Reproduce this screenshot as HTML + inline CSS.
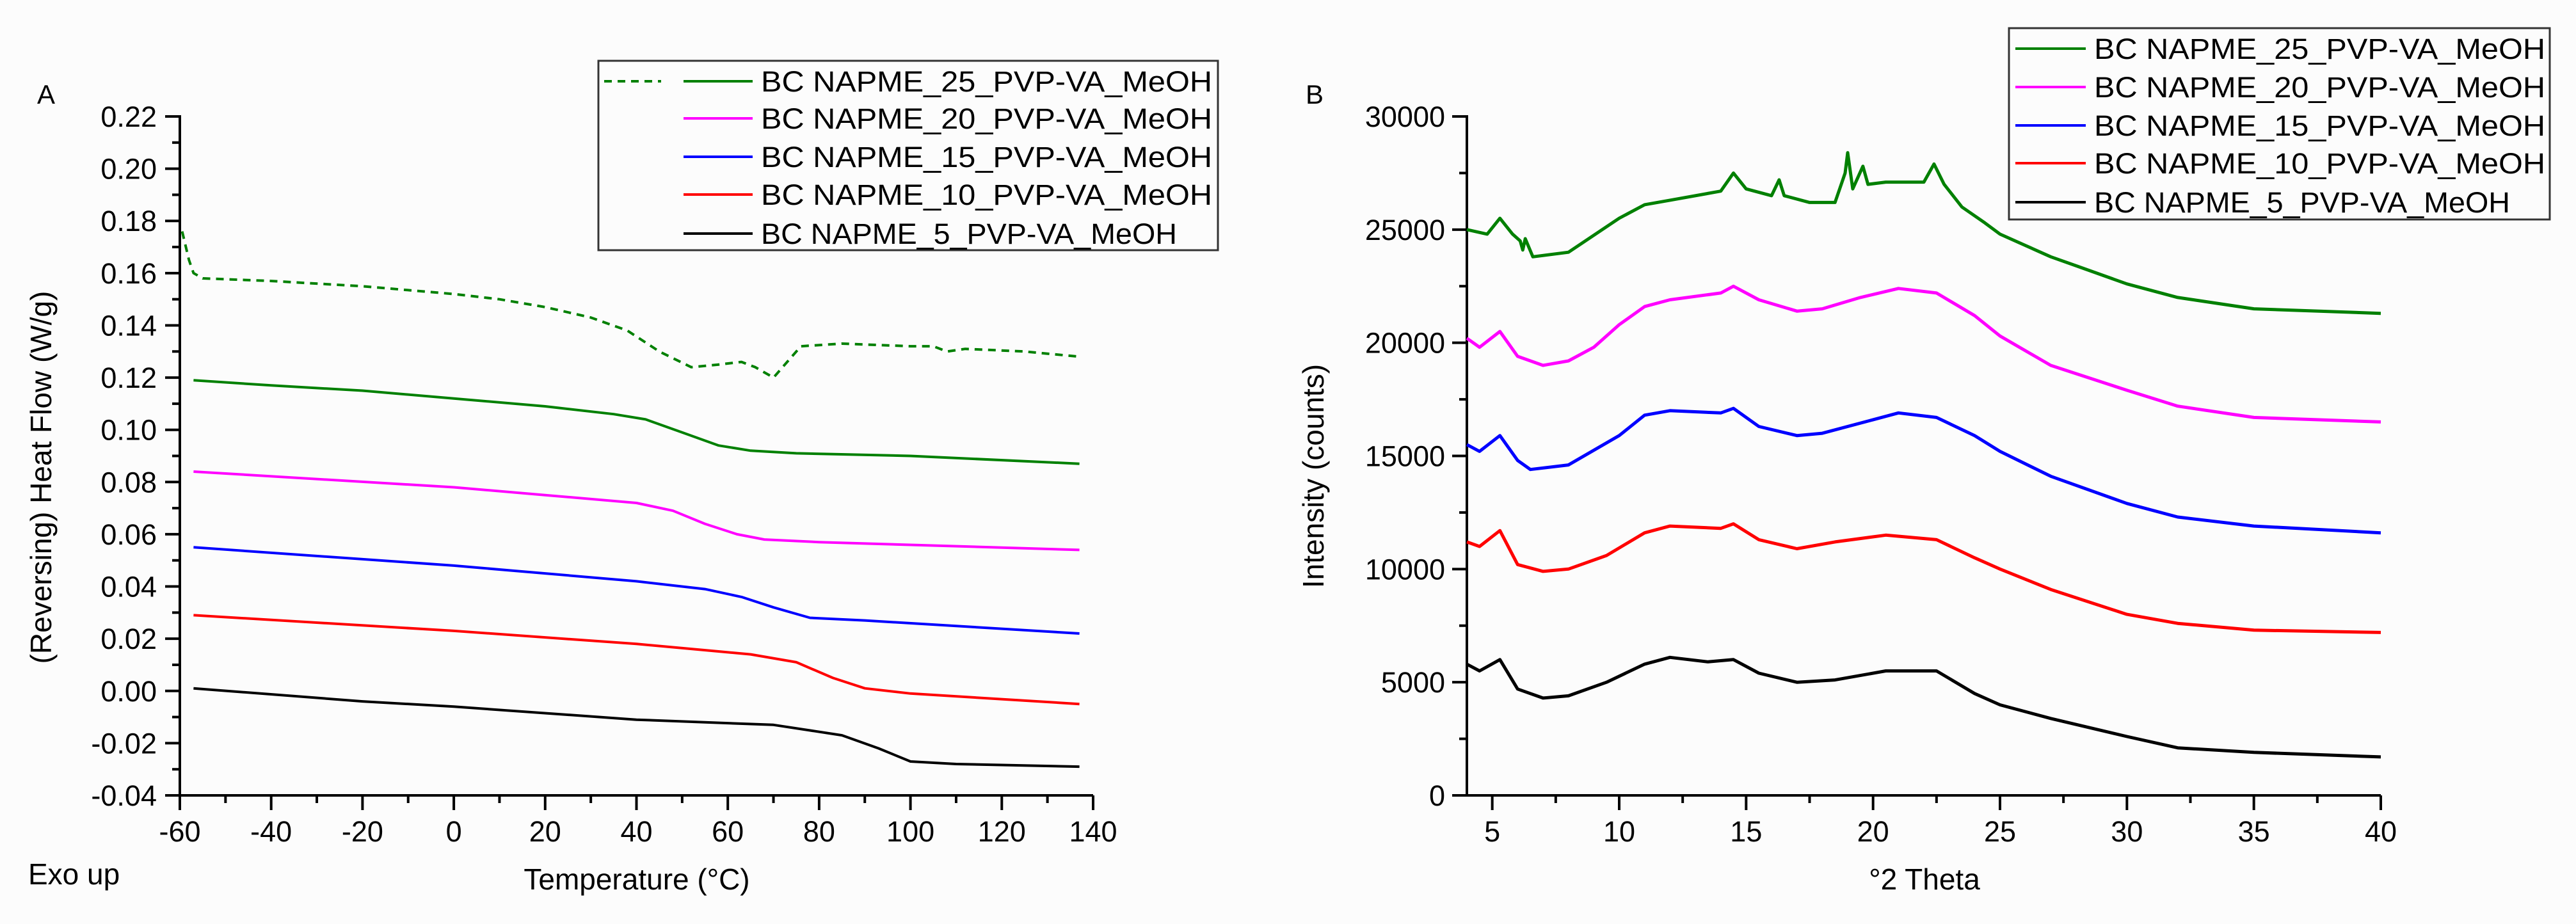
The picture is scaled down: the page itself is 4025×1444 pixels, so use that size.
<!DOCTYPE html>
<html><head><meta charset="utf-8"><style>
html,body{margin:0;padding:0;background:#fcfcfc}
svg{display:block;font-family:"Liberation Sans",Arial,sans-serif}
</style></head><body>
<svg id="fig" width="4025" height="1444" viewBox="0 0 4025 1444" xmlns="http://www.w3.org/2000/svg">
<rect width="4025" height="1444" fill="#fcfcfc"/>
</svg>
<script>
// ---- Panel A data (DSC) ----
const dscTicksX = [-60,-40,-20,0,20,40,60,80,100,120,140];
const dscTicksY = [-0.04,-0.02,0.00,0.02,0.04,0.06,0.08,0.10,0.12,0.14,0.16,0.18,0.20,0.22];
const dscNames = ["BC NAPME_25_PVP-VA_MeOH","BC NAPME_20_PVP-VA_MeOH","BC NAPME_15_PVP-VA_MeOH","BC NAPME_10_PVP-VA_MeOH","BC NAPME_5_PVP-VA_MeOH"];
const dscDashedX = [-59.5,-58,-57,-55,-40,-20,0,10,20,30,38,45,52,58,63,66,70,73,76,85,100,105,108,112,125,137];
const dscDashedY = [0.176,0.165,0.160,0.158,0.157,0.155,0.152,0.150,0.147,0.143,0.138,0.130,0.124,0.125,0.126,0.124,0.120,0.126,0.132,0.133,0.132,0.132,0.130,0.131,0.130,0.128];
const dsc25X = [-57,-40,-20,0,20,35,42,50,58,65,75,100,137];
const dsc25Y = [0.119,0.117,0.115,0.112,0.109,0.106,0.104,0.099,0.094,0.092,0.091,0.090,0.087];
const dsc20X = [-57,0,20,40,48,55,62,68,80,137];
const dsc20Y = [0.084,0.078,0.075,0.072,0.069,0.064,0.060,0.058,0.057,0.054];
const dsc15X = [-57,0,40,55,63,70,78,90,137];
const dsc15Y = [0.055,0.048,0.042,0.039,0.036,0.032,0.028,0.027,0.022];
const dsc10X = [-57,0,40,65,75,83,90,100,137];
const dsc10Y = [0.029,0.023,0.018,0.014,0.011,0.005,0.001,-0.001,-0.005];
const dsc5X = [-57,-20,0,40,70,85,93,100,110,137];
const dsc5Y = [0.001,-0.004,-0.006,-0.011,-0.013,-0.017,-0.022,-0.027,-0.028,-0.029];
// ---- Panel B data (XRD) ----
const xrdTicksX = [5,10,15,20,25,30,35,40];
const xrdTicksY = [0,5000,10000,15000,20000,25000,30000];
const xrd25X = [4,4.8,5.3,5.8,6.1,6.2,6.3,6.6,8,10,11,12,14,14.5,15,16,16.3,16.5,17.5,18.5,18.9,19,19.2,19.6,19.8,20.5,22,22.4,22.8,23.5,24.4,25,27,28,30,32,35,40];
const xrd25Y = [25000,24800,25500,24800,24500,24100,24600,23800,24000,25500,26100,26300,26700,27500,26800,26500,27200,26500,26200,26200,27500,28400,26800,27800,27000,27100,27100,27900,27000,26000,25300,24800,23800,23400,22600,22000,21500,21300];
const xrd20X = [4,4.5,5.3,6,7,8,9,10,11,12,14,14.5,15.5,17,18,19.5,21,22.5,24,25,27,30,32,35,40];
const xrd20Y = [20200,19800,20500,19400,19000,19200,19800,20800,21600,21900,22200,22500,21900,21400,21500,22000,22400,22200,21200,20300,19000,17900,17200,16700,16500];
const xrd15X = [4,4.5,5.3,6,6.5,8,10,11,12,14,14.5,15.5,17,18,20,21,22.5,24,25,27,30,32,35,40];
const xrd15Y = [15500,15200,15900,14800,14400,14600,15900,16800,17000,16900,17100,16300,15900,16000,16600,16900,16700,15900,15200,14100,12900,12300,11900,11600];
const xrd10X = [4,4.5,5.3,6,7,8,9.5,11,12,14,14.5,15.5,17,18.5,20.5,22.5,24,25,27,30,32,35,40];
const xrd10Y = [11200,11000,11700,10200,9900,10000,10600,11600,11900,11800,12000,11300,10900,11200,11500,11300,10500,10000,9100,8000,7600,7300,7200];
const xrd5X = [4,4.5,5.3,6,7,8,9.5,11,12,13.5,14.5,15.5,17,18.5,20.5,22.5,24,25,27,30,32,35,40];
const xrd5Y = [5800,5500,6000,4700,4300,4400,5000,5800,6100,5900,6000,5400,5000,5100,5500,5500,4500,4000,3400,2600,2100,1900,1700];

const NS="http://www.w3.org/2000/svg";
const svg=document.getElementById('fig');
function mk(tag,attrs,parent){const e=document.createElementNS(NS,tag);for(const k in attrs)e.setAttribute(k,attrs[k]);(parent||svg).appendChild(e);return e;}
function txt(s,attrs,parent){const e=mk('text',attrs,parent);e.textContent=s;return e;}

// axis functions
const AX={x0:281,x1:1708,y0:1243,y1:182};
const ax=v=>AX.x0+(v-(-60))/(200)*(AX.x1-AX.x0);
const ay=v=>AX.y0-(v-(-0.04))/(0.26)*(AX.y0-AX.y1);
const BX={x0:2292,x1:3720,y0:1243,y1:182};
const bx=v=>BX.x0+(v-4)/36*(BX.x1-BX.x0);
const by=v=>BX.y0-(v/30000)*(BX.y0-BX.y1);

function poly(xs,ys,fx,fy,color,name,extra){
  const pts=xs.map((x,i)=>fx(x).toFixed(1)+','+fy(ys[i]).toFixed(1)).join(' ');
  const p=mk('polyline',Object.assign({points:pts,fill:'none',stroke:color,'stroke-width':4,'stroke-linejoin':'round'},extra||{}));
  
  
  return p;
}

// ---- Panel A ----
const gA=mk('g',{});


const la=txt('A',{x:58,y:162,'font-size':42},gA);


// axes
const aAxY=mk('line',{x1:AX.x0,y1:AX.y1-2,x2:AX.x0,y2:AX.y0+2,stroke:'#000','stroke-width':4},gA);


const aAxX=mk('line',{x1:AX.x0-2,y1:AX.y0,x2:AX.x1,y2:AX.y0,stroke:'#000','stroke-width':4},gA);


dscTicksY.forEach((v,i)=>{
  const y=ay(v);
  mk('line',{x1:AX.x0-23,y1:y,x2:AX.x0,y2:y,stroke:'#000','stroke-width':4},gA);
  if(i<dscTicksY.length-1){const ym=ay(v+0.01);mk('line',{x1:AX.x0-12,y1:ym,x2:AX.x0,y2:ym,stroke:'#000','stroke-width':4},gA);}
  const t=txt(v.toFixed(2),{x:AX.x0-36,y:y+16,'font-size':45,'text-anchor':'end'},gA);
  
  
});
dscTicksX.forEach((v,i)=>{
  const x=ax(v);
  mk('line',{x1:x,y1:AX.y0,x2:x,y2:AX.y0+23,stroke:'#000','stroke-width':4},gA);
  if(i<dscTicksX.length-1){const xm=ax(v+10);mk('line',{x1:xm,y1:AX.y0,x2:xm,y2:AX.y0+12,stroke:'#000','stroke-width':4},gA);}
  const t=txt(String(v),{x:x,y:1315,'font-size':45,'text-anchor':'middle'},gA);
  
  
});
const aYT=txt('(Reversing) Heat Flow (W/g)',{x:0,y:0,'font-size':46,'text-anchor':'middle',transform:'translate(80,746) rotate(-90)'},gA);


const aXT=txt('Temperature (°C)',{x:995,y:1390,'font-size':46,'text-anchor':'middle'},gA);


const exo=txt('Exo up',{x:44,y:1382,'font-size':46},gA);


poly(dscDashedX,dscDashedY,ax,ay,'#008000','series-25-total-dashed',{'stroke-dasharray':'12,9'});
poly(dsc25X,dsc25Y,ax,ay,'#008000','series-25');
poly(dsc20X,dsc20Y,ax,ay,'#ff00ff','series-20');
poly(dsc15X,dsc15Y,ax,ay,'#0000ff','series-15');
poly(dsc10X,dsc10Y,ax,ay,'#ff0000','series-10');
poly(dsc5X,dsc5Y,ax,ay,'#000000','series-5');

const colors=['#008000','#ff00ff','#0000ff','#ff0000','#000000'];
// legend A
const legA=mk('g',{},gA);


mk('rect',{x:935,y:95,width:968,height:296,fill:'#fcfcfc',stroke:'#333','stroke-width':3},legA);
const rowsA=[127,185,245,304,365];
dscNames.forEach((n,i)=>{
  const g=mk('g',{},legA);
  
  
  if(i===0) mk('line',{x1:944,y1:rowsA[i],x2:1033,y2:rowsA[i],stroke:colors[0],'stroke-width':4,'stroke-dasharray':'12,9'},g);
  mk('line',{x1:1068,y1:rowsA[i],x2:1176,y2:rowsA[i],stroke:colors[i],'stroke-width':4},g);
  txt(n,{x:1189,y:rowsA[i]+16,'font-size':45,textLength:(i===4?650:705),lengthAdjust:'spacingAndGlyphs'},g);
});

// ---- Panel B ----
const gB=mk('g',{});


const lb=txt('B',{x:2040,y:162,'font-size':42},gB);


const bAxY=mk('line',{x1:BX.x0,y1:BX.y1-2,x2:BX.x0,y2:BX.y0+2,stroke:'#000','stroke-width':4},gB);


const bAxX=mk('line',{x1:BX.x0-2,y1:BX.y0,x2:BX.x1,y2:BX.y0,stroke:'#000','stroke-width':4},gB);


xrdTicksY.forEach((v,i)=>{
  const y=by(v);
  mk('line',{x1:BX.x0-23,y1:y,x2:BX.x0,y2:y,stroke:'#000','stroke-width':4},gB);
  if(i<xrdTicksY.length-1){const ym=by(v+2500);mk('line',{x1:BX.x0-12,y1:ym,x2:BX.x0,y2:ym,stroke:'#000','stroke-width':4},gB);}
  const t=txt(String(v),{x:BX.x0-34,y:y+16,'font-size':45,'text-anchor':'end'},gB);
  
  
});
xrdTicksX.forEach((v,i)=>{
  const x=bx(v);
  mk('line',{x1:x,y1:BX.y0,x2:x,y2:BX.y0+23,stroke:'#000','stroke-width':4},gB);
  if(i<xrdTicksX.length-1){const xm=bx(v+2.5);mk('line',{x1:xm,y1:BX.y0,x2:xm,y2:BX.y0+12,stroke:'#000','stroke-width':4},gB);}
  const t=txt(String(v),{x:x,y:1315,'font-size':45,'text-anchor':'middle'},gB);
  
  
});
const bYT=txt('Intensity (counts)',{x:0,y:0,'font-size':46,'text-anchor':'middle',transform:'translate(2068,744) rotate(-90)'},gB);


const bXT=txt('°2 Theta',{x:3007,y:1390,'font-size':46,'text-anchor':'middle'},gB);


poly(xrd25X,xrd25Y,bx,by,'#008000','xrd-series-25',{'stroke-width':5});
poly(xrd20X,xrd20Y,bx,by,'#ff00ff','xrd-series-20',{'stroke-width':5});
poly(xrd15X,xrd15Y,bx,by,'#0000ff','xrd-series-15',{'stroke-width':5});
poly(xrd10X,xrd10Y,bx,by,'#ff0000','xrd-series-10',{'stroke-width':5});
poly(xrd5X,xrd5Y,bx,by,'#000000','xrd-series-5',{'stroke-width':5});

const legB=mk('g',{},gB);


mk('rect',{x:3139,y:44,width:845,height:299,fill:'#fcfcfc',stroke:'#333','stroke-width':3},legB);
const rowsB=[76,136,196,255,316];
dscNames.forEach((n,i)=>{
  const g=mk('g',{},legB);
  
  
  mk('line',{x1:3149,y1:rowsB[i],x2:3259,y2:rowsB[i],stroke:colors[i],'stroke-width':4},g);
  txt(n,{x:3272,y:rowsB[i]+16,'font-size':45,textLength:(i===4?650:705),lengthAdjust:'spacingAndGlyphs'},g);
});
</script>
</body></html>
